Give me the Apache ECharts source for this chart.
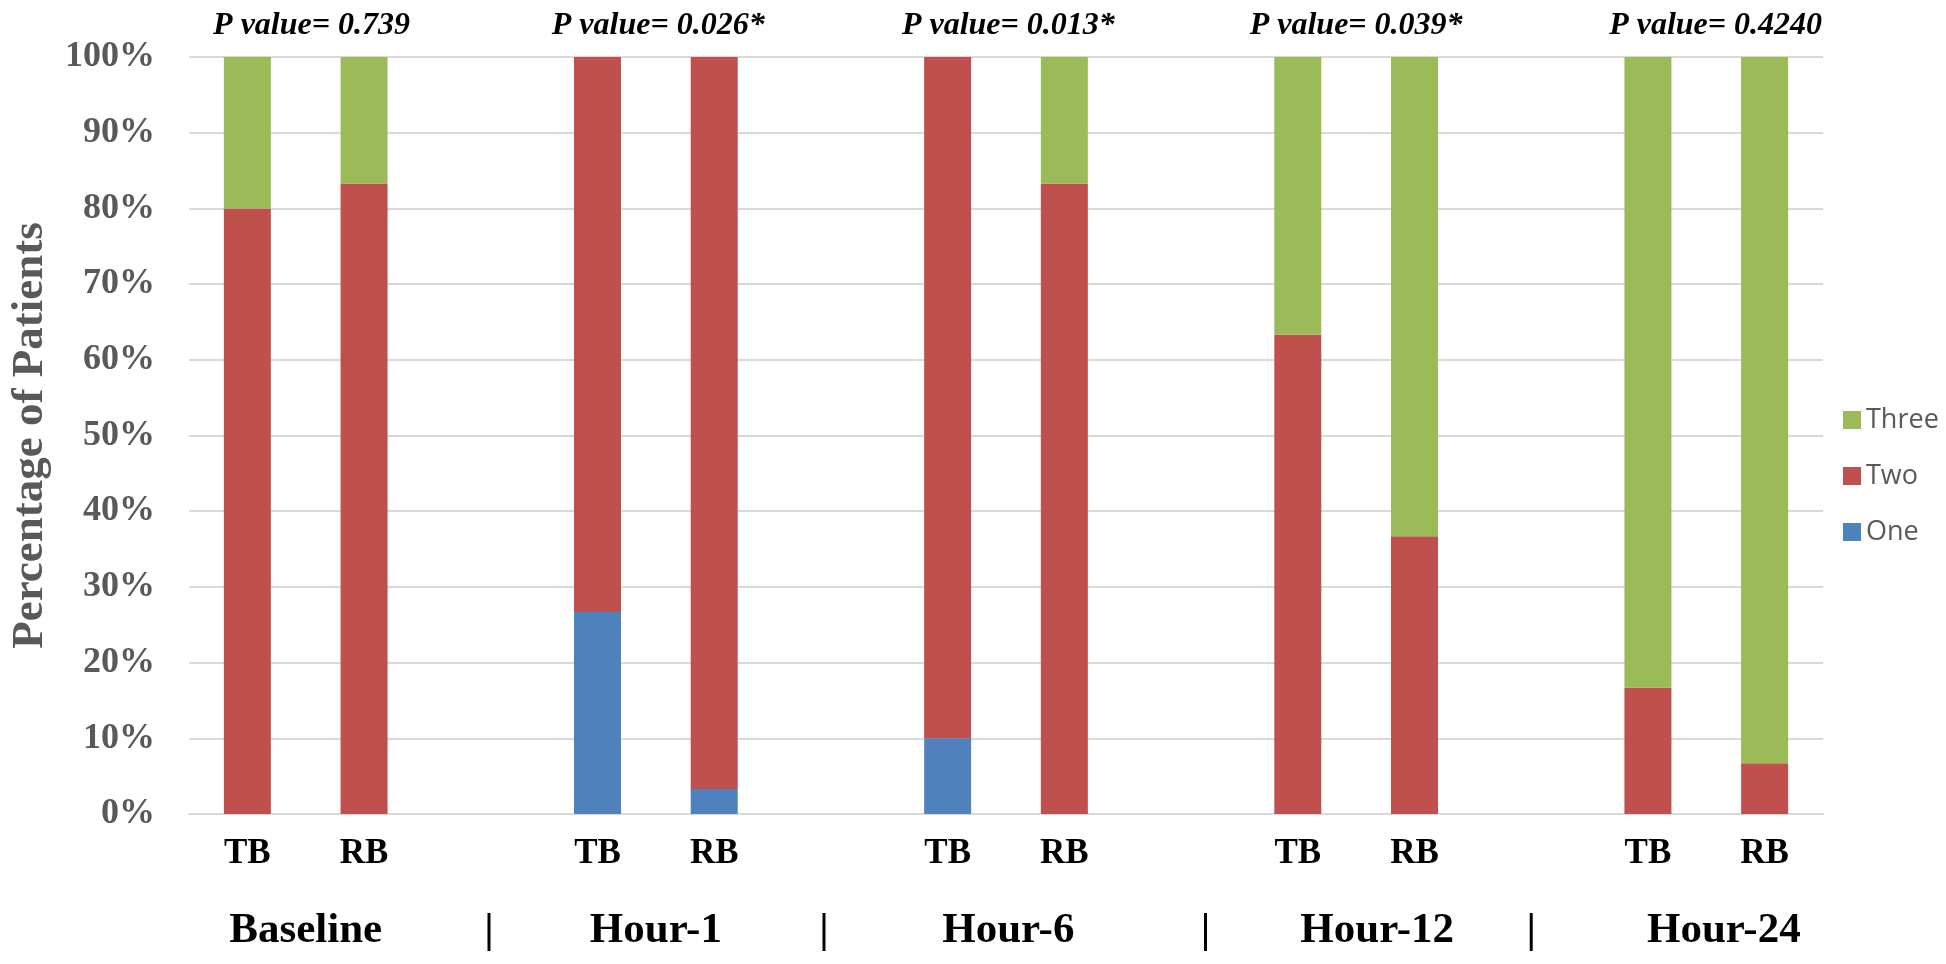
<!DOCTYPE html>
<html>
<head>
<meta charset="utf-8">
<script src="https://cdn.jsdelivr.net/npm/echarts@6/dist/echarts.min.js"></script>
<style>
  html, body { margin: 0; padding: 0; background: #ffffff; }
  #chart { width: 1946px; height: 964px; }
</style>
</head>
<body>
<div id="chart"></div>
<script>
// ---- data ----
var categories = ['TB', 'RB', '', 'TB', 'RB', '', 'TB', 'RB', '', 'TB', 'RB', '', 'TB', 'RB'];
var seriesNames = ['One', 'Two', 'Three'];
var oneValues   = [0, 0, null, 26.7, 3.3, null, 10, 0, null, 0, 0, null, 0, 0];
var twoValues   = [80, 83.3, null, 73.3, 96.7, null, 90, 83.3, null, 63.3, 36.7, null, 16.7, 6.7];
var threeValues = [20, 16.7, null, 0, 0, null, 0, 16.7, null, 36.7, 63.3, null, 83.3, 93.3];
var groupLabels = ['Baseline', 'Hour-1', 'Hour-6', 'Hour-12', 'Hour-24'];
var pValueLabels = ['P value= 0.739', 'P value= 0.026*', 'P value= 0.013*', 'P value= 0.039*', 'P value= 0.4240'];
var yTicks = [0, 10, 20, 30, 40, 50, 60, 70, 80, 90, 100];

// ---- layout (slot units along the category axis) ----
var groupLabelPos = [1, 4, 7.02, 10.18, 13.15];
var separatorPos = [2.57, 5.44, 8.71, 11.5];
var pValuePos = [1.05, 4.02, 7.02, 10, 13.08];

var bottomVals = [], bottomTexts = [];
for (var i = 0; i < groupLabels.length; i++) {
  bottomVals.push(groupLabelPos[i]); bottomTexts.push(groupLabels[i]);
  if (i < separatorPos.length) { bottomVals.push(separatorPos[i]); bottomTexts.push('|'); }
}
function lookup(vals, texts, v) {
  var best = -1, bd = 1e9;
  for (var k = 0; k < vals.length; k++) {
    var d = Math.abs(vals[k] - v);
    if (d < bd) { bd = d; best = k; }
  }
  return bd < 0.01 ? texts[best] : '';
}

var colors = { One: '#4F81BD', Two: '#C0504D', Three: '#9BBB59' };
var valuesByName = { One: oneValues, Two: twoValues, Three: threeValues };

var chart = echarts.init(document.getElementById('chart'), null, { renderer: 'canvas' });

var series = seriesNames.map(function (n) {
  return {
    name: n,
    type: 'bar',
    stack: 'total',
    xAxisIndex: 0,
    yAxisIndex: 0,
    barWidth: 47,
    itemStyle: { color: colors[n] },
    data: valuesByName[n]
  };
});

var option = {
  backgroundColor: '#ffffff',
  animation: false,
  grid: { left: 187, right: 123, top: 57, bottom: 150, containLabel: false },
  legend: {
    orient: 'vertical',
    left: 1838,
    top: 400,
    itemWidth: 18,
    itemHeight: 18,
    itemGap: 26,
    icon: 'rect',
    data: ['Three', 'Two', 'One'],
    textStyle: { fontFamily: 'Open Sans', fontSize: 27, color: '#595959', lineHeight: 30, padding: [0, 0, 0, 0] }
  },
  xAxis: [
    {
      type: 'category',
      data: categories,
      position: 'bottom',
      axisLine: { show: true, lineStyle: { color: '#D9D9D9', width: 2 } },
      axisTick: { show: false },
      axisLabel: {
        interval: 0,
        margin: 22,
        fontFamily: 'Liberation Serif',
        fontWeight: 'bold',
        fontSize: 35,
        color: '#000000'
      },
      splitLine: { show: false }
    },
    {
      type: 'value',
      min: 0,
      max: 14,
      position: 'bottom',
      axisLine: { show: false },
      axisTick: { show: false },
      splitLine: { show: false },
      axisLabel: {
        customValues: bottomVals,
        margin: 95,
        fontFamily: 'Liberation Serif',
        fontWeight: 'bold',
        fontSize: 43,
        color: '#000000',
        formatter: function (v) { return lookup(bottomVals, bottomTexts, v); }
      }
    },
    {
      type: 'value',
      min: 0,
      max: 14,
      position: 'top',
      axisLine: { show: false },
      axisTick: { show: false },
      splitLine: { show: false },
      axisLabel: {
        customValues: pValuePos,
        margin: 15,
        fontFamily: 'Liberation Serif',
        fontWeight: 'bold',
        fontStyle: 'italic',
        fontSize: 32,
        color: '#000000',
        formatter: function (v) { return lookup(pValuePos, pValueLabels, v); }
      }
    }
  ],
  yAxis: [
    {
      type: 'value',
      min: yTicks[0],
      max: yTicks[yTicks.length - 1],
      interval: yTicks[1] - yTicks[0],
      name: 'Percentage of Patients',
      nameLocation: 'middle',
      nameGap: 136,
      nameRotate: 90,
      nameTextStyle: {
        fontFamily: 'Liberation Serif',
        fontWeight: 'bold',
        fontSize: 45,
        color: '#595959'
      },
      axisLine: { show: false },
      axisTick: { show: false },
      axisLabel: {
        margin: 34,
        fontFamily: 'Liberation Serif',
        fontWeight: 'bold',
        fontSize: 36,
        color: '#595959',
        formatter: '{value}%'
      },
      splitLine: { show: true, lineStyle: { color: '#D9D9D9', width: 2 } }
    }
  ],
  series: series
};
// empty helper series so the extra label axes render
option.series.push({ type: 'line', xAxisIndex: 1, yAxisIndex: 0, data: [], silent: true, showSymbol: false });
option.series.push({ type: 'line', xAxisIndex: 2, yAxisIndex: 0, data: [], silent: true, showSymbol: false });

chart.setOption(option);
</script>
</body>
</html>
